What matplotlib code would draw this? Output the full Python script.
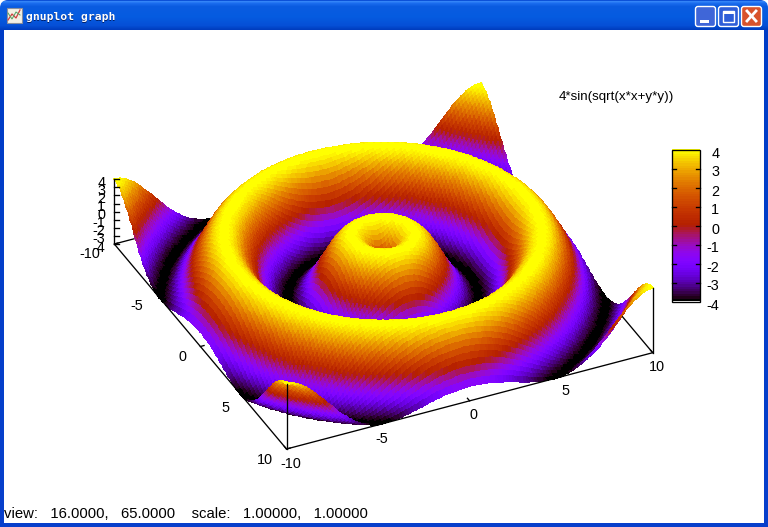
import numpy as np
import matplotlib
matplotlib.use("Agg")
import matplotlib.pyplot as plt
from matplotlib.colors import ListedColormap
from matplotlib.patches import FancyBboxPatch, Rectangle

# ---- chart content ----
FORMULA_LABEL = "4*sin(sqrt(x*x+y*y))"
WINDOW_TITLE = "gnuplot graph"
STATUS = "view:   16.0000,   65.0000    scale:   1.00000,   1.00000"
x_ticks = [-10, -5, 0, 5, 10]
y_ticks = [-10, -5, 0, 5, 10]
z_ticks = [4, 3, 2, 1, 0, -1, -2, -3, -4]
cb_ticks = [4, 3, 2, 1, 0, -1, -2, -3, -4]

# The surface is the function the chart itself prints as its key, so z is
# evaluated from that printed expression rather than read off by eye.
# Sample count and colour count are estimates chosen to match the look.
n_samples = 131
x_samples = np.linspace(10, -10, n_samples)   # far to near: painter's order
y_samples = np.linspace(-10, 10, n_samples)
X, Y = np.meshgrid(x_samples, y_samples)
Z = 4 * np.sin(np.sqrt(X * X + Y * Y))

# ---- gnuplot's default palette (rgbformulae 7,5,15) with a limited colour count ----
t = np.linspace(0, 1, 64)
palette = ListedColormap(np.c_[np.sqrt(t), t ** 3, np.clip(np.sin(2 * np.pi * t), 0, 1)])

# ---- orthographic view, anchored to the three visible base corners ----
A = np.array([114.3, 244.0])   # x=-10, y=-10
B = np.array([286.5, 449.0])   # x=-10, y=10
C = np.array([652.7, 352.7])   # x=10,  y=10
ux, uy = (C - B) / 20, (B - A) / 20
uz = 8.1


def proj(x, y, z=-4.0):
    x, y, z = np.asarray(x, float), np.asarray(y, float), np.asarray(z, float)
    return (A[0] + (x + 10) * ux[0] + (y + 10) * uy[0],
            A[1] + (x + 10) * ux[1] + (y + 10) * uy[1] - (z + 4) * uz)


fig = plt.figure(figsize=(7.68, 5.27), dpi=100, facecolor="white")
ax = fig.add_axes([0, 0, 1, 1])
ax.set_axis_off()
FONT = "Liberation Sans"
FS = 10.4

# ---- window frame ----
stops_y = [0, 1, 3, 6, 16, 25, 29, 30, 527]
stops_c = [(0.05, 0.32, 0.85), (0.20, 0.52, 0.97), (0.10, 0.42, 0.93), (0.04, 0.36, 0.88),
           (0.02, 0.36, 0.88), (0.02, 0.31, 0.84), (0.0, 0.24, 0.75), (0.0, 0.24, 0.78),
           (0.03, 0.25, 0.80)]
rows = np.arange(527)
grad = np.stack([np.interp(rows, stops_y, [c[i] for c in stops_c]) for i in range(3)], axis=1)[:, None, :]
frame = ax.imshow(grad, extent=(0, 768, 527, 0), aspect="auto", interpolation="nearest", zorder=1)
clip = FancyBboxPatch((0, 0), 768, 560, boxstyle="round,pad=0,rounding_size=8",
                      transform=ax.transData, fc="none", ec="none")
ax.add_patch(clip)
frame.set_clip_path(clip)
ax.add_patch(Rectangle((4, 30), 760, 493, fc="white", ec="none", zorder=2))

# Title icon and caption
ax.add_patch(Rectangle((6.5, 8), 15, 15, fc="#f4f0e4", ec="#8a8f9c", lw=0.8, zorder=3))
ax.plot([8, 12, 16, 20], [20, 14, 18, 10], color="#d04040", lw=0.9, zorder=4)
ax.plot([8, 12, 16, 20], [13, 19, 12, 15], color="#50a060", lw=0.7, zorder=4)
ax.text(26.5, 17.8, WINDOW_TITLE, color="#00206a", family="DejaVu Sans Mono", weight="bold",
        fontsize=8.2, va="center", ha="left", zorder=4)
ax.text(25.5, 17, WINDOW_TITLE, color="white", family="DejaVu Sans Mono", weight="bold",
        fontsize=8.2, va="center", ha="left", zorder=5)

# Window buttons
for x0, col in [(695.5, "#3f66d8"), (718.5, "#2f5ed8"), (741.5, "#d8532c")]:
    ax.add_patch(FancyBboxPatch((x0, 6.5), 20, 20, boxstyle="round,pad=0,rounding_size=2.5",
                                fc=col, ec="white", lw=1, zorder=3))
ax.add_patch(Rectangle((700, 20), 9, 3, fc="white", ec="none", zorder=4))
ax.add_patch(Rectangle((723, 11), 11, 11, fc="none", ec="white", lw=1, zorder=4))
ax.add_patch(Rectangle((723, 11), 11, 2.5, fc="white", ec="none", zorder=4))
ax.plot([747, 756], [11, 21], color="white", lw=2, zorder=4)
ax.plot([756, 747], [11, 21], color="white", lw=2, zorder=4)

# ---- base box: hidden rear edges first, then the surface, then front edges ----
LW = 0.95
corner_xy = [(-10, -10), (-10, 10), (10, 10), (10, -10)]
rear = [((-10, -10), (10, -10)), ((10, -10), (10, 10))]
for (x0, y0), (x1, y1) in rear:
    px, py = proj([x0, x1], [y0, y1])
    ax.plot(px, py, color="black", lw=LW, zorder=3, solid_capstyle="butt")
px, py = proj(10, -10, [-4, 4])
ax.plot([px, px], py, color="black", lw=LW, zorder=3)

PX, PY = proj(X, Y, Z)
ax.pcolormesh(PX, PY, Z[:-1, :-1], cmap=palette, vmin=-4, vmax=4, shading="flat",
              antialiased=False, edgecolors="face", linewidth=0.2, zorder=4)

for (x0, y0), (x1, y1) in [((-10, -10), (-10, 10)), ((-10, 10), (10, 10))]:
    px, py = proj([x0, x1], [y0, y1])
    ax.plot(px, py, color="black", lw=LW, zorder=6, solid_capstyle="butt")
for (cx, cy) in corner_xy[:3]:
    px = proj(cx, cy, -4)[0]
    ax.plot([px, px], [proj(cx, cy, -4)[1], proj(cx, cy, 4)[1]], color="black", lw=LW, zorder=6)

# Ticks and tick labels
for v in x_ticks:
    px, py = proj([v, v], [10, 9.75])
    ax.plot(px, py, color="black", lw=LW, zorder=6)
    ax.text(px[0] + 4, py[0] + 14.5, str(v), family=FONT, fontsize=FS, ha="center", va="center", zorder=7)
for v in y_ticks:
    px, py = proj([-10, -9.8], [v, v])
    ax.plot(px, py, color="black", lw=LW, zorder=6)
    ax.text(px[0] - 14, py[0] + 10.5, str(v), family=FONT, fontsize=FS, ha="right", va="center", zorder=7)
for v in z_ticks:
    px, py = proj(-10, -10, v)
    ax.plot([px, px + 5], [py, py], color="black", lw=LW, zorder=6)
    ax.text(px - 9, py + 3.5, str(v), family=FONT, fontsize=FS, ha="right", va="center", zorder=7)

# Key text
ax.text(674, 97, FORMULA_LABEL, family=FONT, fontsize=FS * 0.93, ha="right", va="center", zorder=7)

# ---- colour box ----
cb_l, cb_r, cb_t, cb_b = 671.5, 699.5, 149.5, 301.5
ramp = np.linspace(4, -4, 256)[:, None]
ax.imshow(ramp, cmap=palette, vmin=-4, vmax=4, extent=(cb_l, cb_r, cb_b, cb_t),
          aspect="auto", interpolation="nearest", zorder=4)
ax.add_patch(Rectangle((cb_l, cb_t), cb_r - cb_l, cb_b - cb_t, fc="none", ec="black", lw=LW, zorder=6))
for v in cb_ticks:
    yy = cb_b - (v + 4) / 8 * (cb_b - cb_t)
    if -4 < v < 4:
        ax.plot([cb_l, cb_l + 4], [yy, yy], color="black", lw=LW, zorder=6)
        ax.plot([cb_r - 4, cb_r], [yy, yy], color="black", lw=LW, zorder=6)
    ax.text(719.5, yy + 4, str(v), family=FONT, fontsize=FS, ha="right", va="center", zorder=7)

# Status line
ax.text(4, 513.5, STATUS, family=FONT, fontsize=FS * 1.03, ha="left", va="center", zorder=7)

ax.set_xlim(0, 768)
ax.set_ylim(527, 0)
fig.savefig("out.png", dpi=100, facecolor="white")
